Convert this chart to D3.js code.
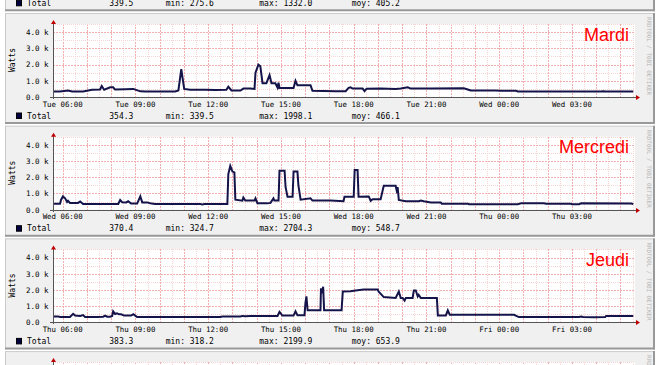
<!DOCTYPE html>
<html><head><meta charset="utf-8">
<script src="https://cdn.jsdelivr.net/npm/d3@7"></script>
<style>body{margin:0;background:#fff}svg{display:block}</style>
</head><body><div id="c"></div>
<script>
// ---------- data ----------
const dayTitles = ["Mardi", "Mercredi", "Jeudi"];
const dayAbbr = ["Tue", "Wed", "Thu", "Fri"];
const xTickHours = [6, 9, 12, 15, 18, 21, 24, 27];
const yTicks = [0, 1000, 2000, 3000, 4000];
const yTickLabels = ["0.0", "1.0 k", "2.0 k", "3.0 k", "4.0 k"];
const legendName = "Total";
// legend rows: previous (partially visible), Mardi, Mercredi, Jeudi
const legendCurrent = ["339.5", "354.3", "370.4", "383.3"];
const legendMin = ["275.6", "339.5", "324.7", "318.2"];
const legendMax = ["1332.0", "1998.1", "2704.3", "2199.9"];
const legendAvg = ["405.2", "466.1", "548.7", "653.9"];
const watermark = "RRDTOOL / TOBI OETIKER";

const mardiHours = [5.60,5.89,6.22,6.39,6.84,7.21,7.54,7.61,7.71,7.96,8.08,8.16,8.58,8.91,9.20,9.40,10.64,10.77,10.89,11.01,11.26,11.88,12.29,12.75,12.83,12.96,13.33,13.45,13.74,13.91,13.95,14.07,14.15,14.24,14.40,14.53,14.61,14.77,14.86,14.90,14.94,15.52,15.60,15.68,16.22,16.30,17.25,17.67,17.79,17.87,17.96,18.37,18.45,18.53,19.11,19.73,19.94,20.23,20.35,21.18,22.54,22.67,22.83,23.86,24.07,24.69,24.77,25.72,28.20,28.29,28.37,29.53];
const mardiWatts = [340,340,400,340,340,440,460,680,450,600,600,460,480,500,350,340,340,400,1720,500,450,440,430,450,630,400,400,520,530,500,1500,1998,1900,850,850,1350,850,850,580,880,560,560,1000,720,720,380,360,360,560,600,520,520,360,510,520,500,520,600,520,530,540,480,400,400,380,380,340,340,340,360,340,340];

const mercrediHours = [5.60,5.89,5.93,6.01,6.10,6.18,6.22,6.30,6.63,6.72,6.84,8.29,8.37,8.45,8.62,8.70,8.82,9.07,9.20,9.28,9.48,9.61,9.81,11.67,11.76,11.84,12.79,12.83,12.91,13.00,13.08,13.12,13.41,13.45,13.53,13.91,13.95,14.03,14.44,14.57,14.69,14.73,14.90,14.94,15.15,15.19,15.27,15.48,15.52,15.68,15.72,15.81,16.22,16.30,17.05,17.58,17.62,18.00,18.04,18.16,18.20,18.62,18.70,18.78,19.11,19.24,19.73,19.77,19.81,19.86,20.15,20.68,20.77,20.89,21.18,21.59,21.63,22.71,22.75,24.77,24.90,25.72,25.85,25.93,26.96,27.00,27.29,27.38,29.44,29.53];
const mercrediWatts = [370,370,600,820,700,480,550,420,420,500,350,350,600,460,450,520,380,380,820,450,450,400,350,350,325,350,350,2200,2704,2350,2300,620,560,750,560,560,700,400,390,420,700,560,560,2400,2400,1400,800,800,2350,2350,1500,620,700,560,560,520,800,800,2450,2450,800,820,550,650,650,1470,1470,1200,1400,600,520,520,560,520,450,450,370,370,340,340,390,390,400,370,370,340,340,390,380,350];

const jeudiHours = [5.60,5.81,5.89,6.30,6.43,6.51,6.72,6.84,6.92,7.42,7.67,7.75,7.83,7.96,8.04,8.08,8.16,8.24,8.33,8.41,8.53,8.82,8.91,8.99,9.07,12.50,12.58,13.33,13.41,13.53,13.74,14.86,14.94,15.06,15.52,15.60,15.68,15.97,16.01,16.05,16.10,16.63,16.65,16.70,16.74,16.78,17.50,17.55,17.87,18.08,18.41,18.99,19.03,19.24,19.73,19.86,19.94,20.02,20.10,20.15,20.43,20.48,20.56,20.64,20.68,20.77,21.43,21.47,21.80,21.88,21.96,24.61,24.81,27.29,27.38,27.46,27.91,28.37,28.41,29.53];
const jeudiWatts = [370,370,330,330,530,420,400,450,330,330,350,420,350,350,400,680,520,560,500,500,420,420,500,420,330,330,360,360,400,380,400,400,650,420,420,680,440,440,1200,1600,750,750,2100,1800,2200,750,750,1900,1920,1960,2030,2030,1900,1560,1510,1900,1500,1500,1350,1510,1510,1970,1970,1600,1700,1500,1500,430,430,740,470,470,330,330,360,330,320,330,400,400];

const seriesHours = [mardiHours, mercrediHours, jeudiHours];
const seriesWatts = [mardiWatts, mercrediWatts, jeudiWatts];

// ---------- layout ----------
const W = 660, H = 365;
const pitch = 112.7, firstTop = 13;
const PX0 = 53, PX1 = 635;
const mono = "'DejaVu Sans Mono', monospace";
const lineColor = "#14144a";
const gridMajor = "#f3b0b0", gridMinor = "#f8d6d6";

const svg = d3.select("#c").append("svg").attr("width", W).attr("height", H);

function panel(i) {
  const T = firstTop + i * pitch;
  const full = i >= 0; // the previous (-1) panel only shows its legend row
  const g = svg.append("g");
  g.append("rect").attr("x", 5).attr("y", T).attr("width", 650).attr("height", 111).attr("fill", "#f0f0f0");
  g.append("line").attr("x1", 5).attr("x2", 655).attr("y1", T + 0.5).attr("y2", T + 0.5).attr("stroke", "#cbcbcb");
  g.append("line").attr("x1", 5.5).attr("x2", 5.5).attr("y1", T).attr("y2", T + 111).attr("stroke", "#cbcbcb");
  g.append("line").attr("x1", 5).attr("x2", 655).attr("y1", T + 110).attr("y2", T + 110).attr("stroke", "#999").attr("stroke-width", 2);
  g.append("line").attr("x1", 654).attr("x2", 654).attr("y1", T).attr("y2", T + 111).attr("stroke", "#999").attr("stroke-width", 2);

  const x = d3.scaleLinear().domain([5.6, 29.6]).range([PX0, PX1]);
  const y = d3.scaleLinear().domain([0, 4500]).range([T + 84, T + 11]);

  if (full) {
    g.append("rect").attr("x", PX0).attr("y", y(4500)).attr("width", PX1 - PX0).attr("height", y(0) - y(4500)).attr("fill", "#fff");

    const grid = g.append("g").attr("shape-rendering", "crispEdges");
    d3.range(6, 29.6, 0.5).forEach(h => {
      const major = Math.abs(h - Math.round(h)) < 1e-6;
      const xx = Math.round(x(h)) + 0.5;
      grid.append("line").attr("x1", xx).attr("x2", xx).attr("y1", y(4500)).attr("y2", y(0))
        .attr("stroke", major ? gridMajor : gridMinor).attr("stroke-dasharray", major ? "2,1" : "1,1");
    });
    d3.range(500, 4501, 500).forEach(v => {
      const major = v % 1000 === 0;
      const yy = Math.round(y(v)) + 0.5;
      grid.append("line").attr("x1", PX0).attr("x2", PX1).attr("y1", yy).attr("y2", yy)
        .attr("stroke", major ? gridMajor : gridMinor).attr("stroke-dasharray", major ? "2,1" : "1,1");
    });

    // series
    if (i < 3) {
      const pts = seriesHours[i].map((h, k) => [h, seriesWatts[i][k]]);
      g.append("path").datum(pts)
        .attr("d", d3.line().x(d => x(d[0])).y(d => y(d[1])))
        .attr("fill", "none").attr("stroke", lineColor).attr("stroke-width", 2).attr("stroke-linejoin", "miter");
    }

    // axes
    const yb = Math.round(y(0)) + 0.5;
    g.append("line").attr("x1", PX0 - 3).attr("x2", PX1 + 2).attr("y1", yb).attr("y2", yb).attr("stroke", "#555").attr("shape-rendering", "crispEdges");
    g.append("line").attr("x1", PX0 + 0.5).attr("x2", PX0 + 0.5).attr("y1", y(0) + 2).attr("y2", T + 9).attr("stroke", "#555").attr("shape-rendering", "crispEdges");
    g.append("path").attr("d", `M${PX1 + 1},${yb - 2.5}L${PX1 + 5},${yb}L${PX1 + 1},${yb + 2.5}Z`).attr("fill", "#c00000");
    g.append("path").attr("d", `M${PX0 - 2},${T + 11}L${PX0 + 0.5},${T + 7}L${PX0 + 3},${T + 11}Z`).attr("fill", "#c00000");

    if (i < 3) {
      // y tick labels
      yTicks.forEach((v, k) => {
        g.append("text").attr("x", 26).attr("y", y(v) + 2.8).attr("font-family", mono).attr("font-size", 7.5)
          .attr("fill", "#000").text(yTickLabels[k]);
      });
      // Watts
      g.append("text").attr("transform", `translate(14.5,${T + 47}) rotate(-90)`).attr("text-anchor", "middle")
        .attr("font-family", mono).attr("font-size", 8).text("Watts");

      // x tick labels
      xTickHours.forEach(h => {
        const d = i + Math.floor(h / 24);
        const hh = String(h % 24).padStart(2, "0");
        g.append("text").attr("x", x(h)).attr("y", T + 93.5).attr("text-anchor", "middle")
          .attr("font-family", mono).attr("font-size", 7.4).text(`${dayAbbr[d]} ${hh}:00`);
      });

      // title
      g.append("text").attr("x", 629).attr("y", T + 27.5).attr("text-anchor", "end")
        .attr("font-family", "'Liberation Sans', Arial, sans-serif").attr("font-size", 18).attr("fill", "#ff0000")
        .text(dayTitles[i]);
    }

    // watermark
    g.append("text").attr("transform", `translate(647,${T + 4}) rotate(90)`).attr("font-family", mono)
      .attr("font-size", 5.9).attr("fill", "#b4b4b4").text(i < 3 ? watermark : watermark.slice(0, 3));
  }

  // legend
  const li = i + 1;
  if (li >= 0 && li < 4) {
    const ly = T + 105.5;
    g.append("rect").attr("x", 16.5).attr("y", ly - 5.5).attr("width", 5).attr("height", 5.5)
      .attr("fill", "#000040").attr("stroke", "#000").attr("stroke-width", 1);
    const lt = (xx, s) => g.append("text").attr("x", xx).attr("y", ly).attr("font-family", mono)
      .attr("font-size", 8).attr("xml:space", "preserve").text(s);
    lt(27, legendName);
    lt(109.3, legendCurrent[li]);
    lt(165.7, "min: " + legendMin[li]);
    lt(259.3, "max: " + legendMax[li]);
    lt(351.7, "moy: " + legendAvg[li]);
  }
}
[-1, 0, 1, 2, 3].forEach(panel);
</script></body></html>
